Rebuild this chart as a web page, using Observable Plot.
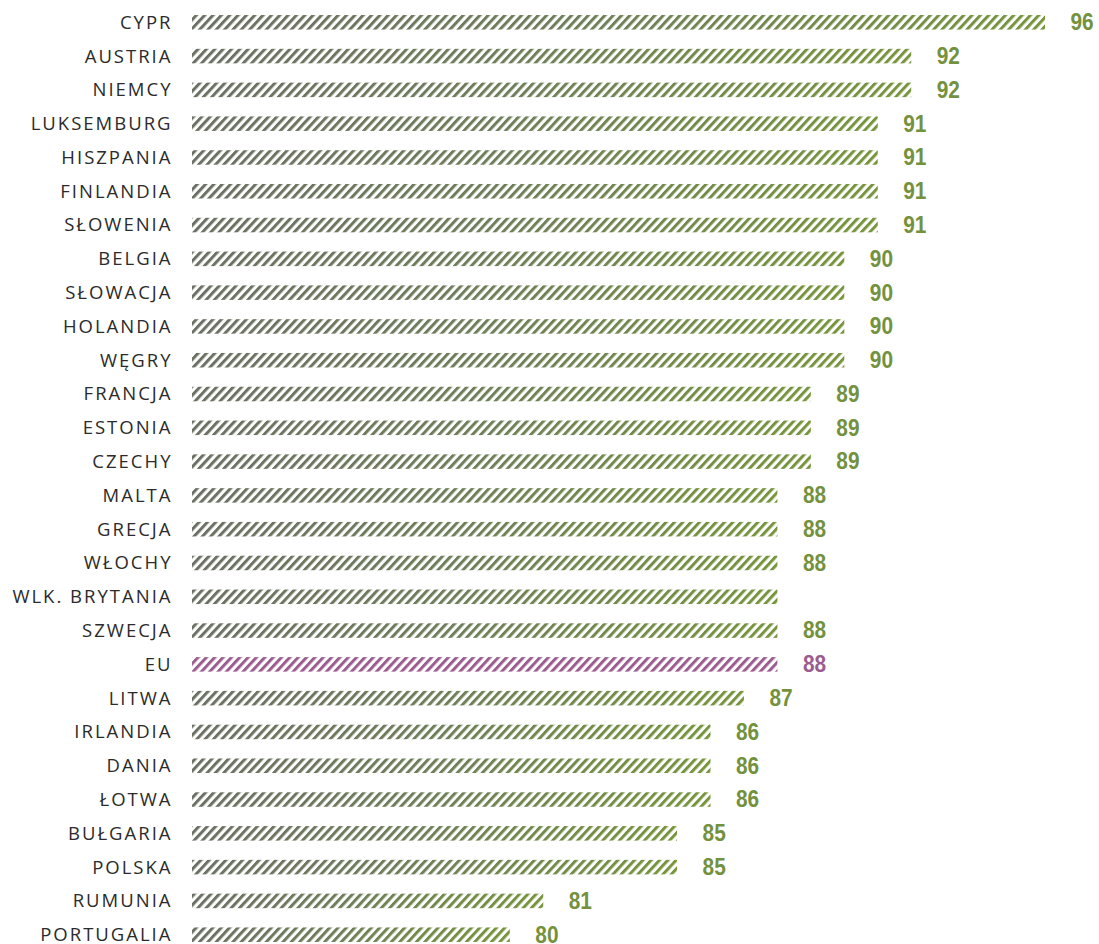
<!DOCTYPE html>
<html>
<head>
<meta charset="utf-8">
<script src="https://cdn.jsdelivr.net/npm/d3@7"></script>
<script src="https://cdn.jsdelivr.net/npm/@observablehq/plot@0.6"></script>
<style>
  body { margin: 0; background: #fff; }
  #chart svg { display: block; }
</style>
</head>
<body>
<div id="chart"></div>
<script>
const countries = ["CYPR","AUSTRIA","NIEMCY","LUKSEMBURG","HISZPANIA","FINLANDIA","SŁOWENIA","BELGIA","SŁOWACJA","HOLANDIA","WĘGRY","FRANCJA","ESTONIA","CZECHY","MALTA","GRECJA","WŁOCHY","WLK. BRYTANIA","SZWECJA","EU","LITWA","IRLANDIA","DANIA","ŁOTWA","BUŁGARIA","POLSKA","RUMUNIA","PORTUGALIA"];
const values = [96,92,92,91,91,91,91,90,90,90,90,89,89,89,88,88,88,88,88,88,87,86,86,86,85,85,81,80];
const labels = ["96","92","92","91","91","91","91","90","90","90","90","89","89","89","88","88","88","","88","88","87","86","86","86","85","85","81","80"];
const highlight = "EU";
const xStart = 70.5;
const xEnd = 96;

const data = countries.map((c, i) => ({country: c, value: values[i], label: labels[i]}));
const others = data.filter(d => d.country !== highlight);
const eu = data.filter(d => d.country === highlight);

const chart = Plot.plot({
  width: 1099,
  height: 944,
  marginLeft: 192,
  marginRight: 54,
  marginTop: 13,
  marginBottom: 0,
  x: {domain: [xStart, xEnd], axis: null},
  y: {domain: countries, paddingInner: 0.57, paddingOuter: 0.06, round: false, label: null},
  style: {background: "#fff"},
  marks: [
    Plot.axisY({tickSize: 0, tickPadding: 20, fontSize: 18.5, label: null, fill: "#2b2b2b"}),
    Plot.barX(others, {y: "country", x1: () => xStart, x2: "value", fill: "url(#gradGreen)"}),
    Plot.barX(eu, {y: "country", x1: () => xStart, x2: "value", fill: "#9b5c8f"}),
    Plot.text(data, {y: "country", x: "value", text: "label", dx: 25, textAnchor: "start",
      fill: d => d.country === highlight ? "#9b5c8f" : "#74913d",
      fontSize: 23, fontWeight: "bold"})
  ]
});

const svg = d3.select(chart);
svg.style("font-family", "'Open Sans', 'Noto Sans', sans-serif");
const defs = svg.insert("defs", ":first-child");
const grad = defs.append("linearGradient").attr("id", "gradGreen")
  .attr("x1", 0).attr("x2", 1).attr("y1", 0).attr("y2", 0);
grad.append("stop").attr("offset", 0).attr("stop-color", "#6b7064");
grad.append("stop").attr("offset", 0.45).attr("stop-color", "#6f7e5a");
grad.append("stop").attr("offset", 1).attr("stop-color", "#77953c");
const pat = defs.append("pattern").attr("id", "hatch")
  .attr("patternUnits", "userSpaceOnUse").attr("width", 6.1).attr("height", 20)
  .attr("patternTransform", "rotate(43)");
pat.append("rect").attr("width", 3).attr("height", 20).attr("fill", "white");
const mask = defs.append("mask").attr("id", "hatchMask")
  .attr("maskUnits", "userSpaceOnUse").attr("x", 0).attr("y", 0)
  .attr("width", 1099).attr("height", 944);
mask.append("rect").attr("width", 1099).attr("height", 944).attr("fill", "url(#hatch)");
svg.selectAll("g[aria-label=bar] rect").attr("mask", "url(#hatchMask)");
svg.selectAll("g[aria-label='y-axis tick label']").style("letter-spacing", "2px");
const vt = svg.selectAll("g[aria-label=text]")
  .style("font-family", "'Liberation Sans', Arial, sans-serif");
vt.selectAll("text").each(function() {
  const t = d3.select(this);
  if (t.text().length) t.attr("textLength", 11.6 * t.text().length).attr("lengthAdjust", "spacingAndGlyphs");
});

document.getElementById("chart").appendChild(chart);
</script>
</body>
</html>
